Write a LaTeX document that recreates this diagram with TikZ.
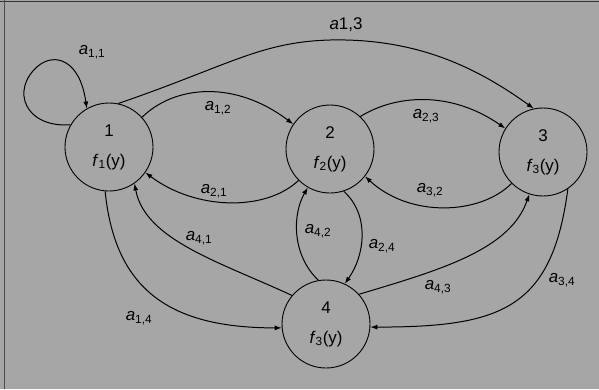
\documentclass[tikz,border=0pt]{standalone}
\usepackage{fontspec}
\setmainfont{Liberation Sans}
\usetikzlibrary{arrows.meta}
\newcommand{\alab}[1]{\textit{a}\textsubscript{#1}}
\newcommand{\flab}[1]{\textit{f}\textsubscript{#1}(y)}
\begin{document}
\begin{tikzpicture}[x=1bp,y=-1bp,
    state_node/.style={circle,draw,line width=0.9pt,minimum size=88bp,inner sep=0pt,align=center,font=\fontsize{17}{30}\selectfont},
    edge_lbl/.style={font=\fontsize{17}{18}\selectfont,inner sep=0pt},
    arc/.style={line width=1pt,-{Latex[length=7bp,width=5bp]}}]
    \useasboundingbox (0,0) rectangle (599,389);
    \fill[black!35] (0,0) rectangle (599,389);
    \draw[black!80,line width=1pt] (0,1) -- (599,1);
    \draw[black!70,line width=0.8pt] (4,0) -- (4,389);
    \node[state_node] (1) at (109,147) {1\\\flab{1}};
    \node[state_node] (2) at (330,149) {2\\\flab{2}};
    \node[state_node] (3) at (543,152) {3\\\flab{3}};
    \node[state_node] (4) at (326,324) {4\\\flab{3}};
    % arcs
    \coordinate (loop) at (38,66);
    \draw[arc] (1.150) .. controls (25,128) and (10,90) .. (loop) .. controls (55,52) and (80,60) .. (1.120);
    \draw[arc] (1.78) .. controls (230,65) and (260,42) .. (330,40) .. controls (420,38) and (480,70) .. (3.102);
    \draw[arc] (1.42) .. controls (175,85) and (235,80) .. (2.146);
    \draw[arc] (2.225) .. controls (265,212) and (195,210) .. (1.-35);
    \draw[arc] (2.47) .. controls (395,95) and (450,90) .. (3.148);
    \draw[arc] (3.225) .. controls (480,215) and (410,218) .. (2.-38);
    \draw[arc] (4.140) .. controls (220,262) and (145,240) .. (1.-55);
    \draw[arc] (1.-95) .. controls (115,290) and (170,328) .. (4.185);
    \draw[arc] (4.100) .. controls (292,255) and (292,215) .. (2.-120);
    \draw[arc] (2.-72) .. controls (370,215) and (365,255) .. (4.65);
    \draw[arc] (4.42) .. controls (440,270) and (510,250) .. (3.-108);
    \draw[arc] (3.-56) .. controls (552,310) and (500,327) .. (4.-4);
    % labels
    \node[edge_lbl] (l11) at (92,52) {\alab{1,1}};
    \node[edge_lbl] (l13) at (346,25) {\textit{a}1,3};
    \node[edge_lbl] (l12) at (218,108) {\alab{1,2}};
    \node[edge_lbl] (l21) at (214,191) {\alab{2,1}};
    \node[edge_lbl] (l23) at (426,116) {\alab{2,3}};
    \node[edge_lbl] (l32) at (430,190) {\alab{3,2}};
    \node[edge_lbl] (l41) at (199,238) {\alab{4,1}};
    \node[edge_lbl] (l14) at (139,318) {\alab{1,4}};
    \node[edge_lbl] (l42) at (318,231) {\alab{4,2}};
    \node[edge_lbl] (l24) at (382,246) {\alab{2,4}};
    \node[edge_lbl] (l43) at (438,287) {\alab{4,3}};
    \node[edge_lbl] (l34) at (562,280) {\alab{3,4}};
\end{tikzpicture}
\end{document}
